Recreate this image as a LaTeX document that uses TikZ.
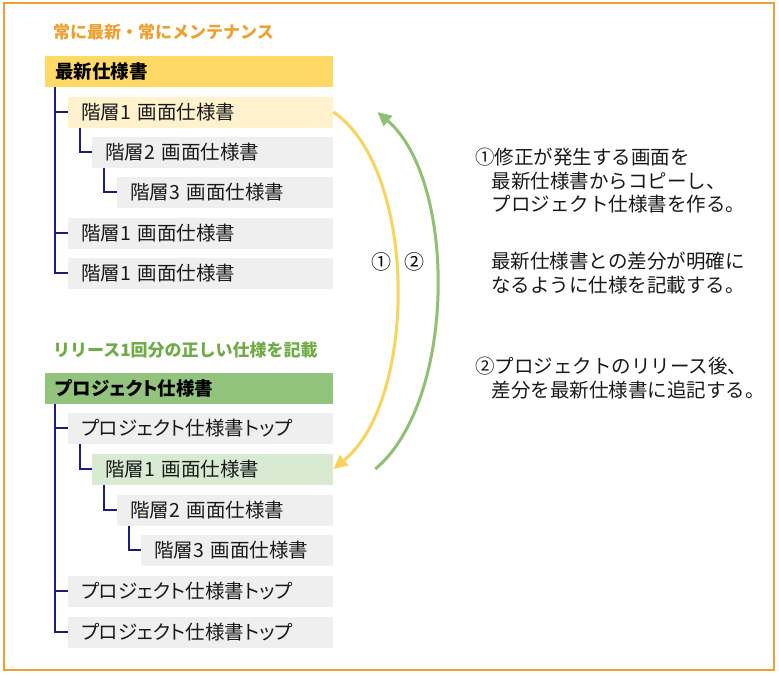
\documentclass[tikz,border=0pt]{standalone}
\usepackage{fontspec}
\setmainfont{Noto Sans CJK JP}
\newfontfamily\pfont{Noto Sans CJK JP}[RawFeature=+palt]
\usetikzlibrary{arrows.meta}

\definecolor{daidai}{HTML}{F0A030}
\definecolor{kiiro}{HTML}{FFD966}
\definecolor{usukiiro}{HTML}{FFF2CC}
\definecolor{haiiro}{HTML}{EFEFEF}
\definecolor{midori}{HTML}{6FAC46}
\definecolor{hdrmidori}{HTML}{93C47D}
\definecolor{usumidori}{HTML}{D9EAD3}
\definecolor{yajiki}{HTML}{F9D35B}
\definecolor{yajimidori}{HTML}{8FC172}
\definecolor{kon}{HTML}{1C1C80}

\begin{document}
\begin{tikzpicture}[x=1pt,y=-1pt,
    hdr/.style={anchor=west, minimum height=31pt, text width=268pt, inner xsep=10pt,
      inner ysep=0pt, font=\pfont\bfseries\fontsize{18.5}{21}\selectfont},
    row/.style={anchor=west, minimum height=31pt, inner xsep=13pt, inner ysep=0pt,
      align=left, fill=haiiro, text=black!90, font=\pfont\fontsize{19.5}{22}\selectfont},
    midasi/.style={anchor=west, inner sep=0pt, font=\bfseries\fontsize{17}{20}\selectfont},
    setsumei/.style={anchor=north west, inner sep=0pt, align=left,
      text=black!90, font=\fontsize{19.5}{23.5}\selectfont},
    tree/.style={kon, line width=1.1pt},
    yaji/.style={line width=3pt, -{Triangle[length=14pt,width=13pt]}}]

  % 枠
  \useasboundingbox (0,0) rectangle (779,675);
  \draw[daidai, line width=2.5pt] (4,3) rectangle (774,670);

  % 最新仕様書
  \node[midasi, text=daidai] (tA) at (53,32) {常に最新・常にメンテナンス};
  \node[hdr, fill=kiiro] (hdrA) at (45,71) {最新仕様書};
  \node[row, fill=usukiiro, text width=239pt] (a1) at (68,112) {階層1 画面仕様書};
  \node[row, text width=215pt] (a2) at (92,152) {階層2 画面仕様書};
  \node[row, text width=190pt] (a3) at (117,192) {階層3 画面仕様書};
  \node[row, text width=239pt] (a4) at (68,233) {階層1 画面仕様書};
  \node[row, text width=239pt] (a5) at (68,273) {階層1 画面仕様書};

  \coordinate (trunkA) at ([xshift=10pt]hdrA.south west);
  \draw[tree] (trunkA) |- (a5.west);
  \draw[tree] (trunkA |- a1.west) -- (a1.west);
  \draw[tree] (trunkA |- a4.west) -- (a4.west);
  \draw[tree] ([xshift=12pt]a1.south west) |- (a2.west);
  \draw[tree] ([xshift=12pt]a2.south west) |- (a3.west);

  % プロジェクト仕様書
  \node[midasi, text=midori] (tB) at (53,350) {リリース1回分の正しい仕様を記載};
  \node[hdr, fill=hdrmidori] (hdrB) at (45,388) {プロジェクト仕様書};
  \node[row, text width=239pt] (b1) at (68,428) {プロジェクト仕様書トップ};
  \node[row, fill=usumidori, text width=215pt] (b2) at (92,469) {階層1 画面仕様書};
  \node[row, text width=190pt] (b3) at (117,510) {階層2 画面仕様書};
  \node[row, text width=166pt] (b4) at (141,550) {階層3 画面仕様書};
  \node[row, text width=239pt] (b5) at (68,591) {プロジェクト仕様書トップ};
  \node[row, text width=239pt] (b6) at (68,632) {プロジェクト仕様書トップ};

  \coordinate (trunkB) at ([xshift=10pt]hdrB.south west);
  \draw[tree] (trunkB) |- (b6.west);
  \draw[tree] (trunkB |- b1.west) -- (b1.west);
  \draw[tree] (trunkB |- b5.west) -- (b5.west);
  \draw[tree] ([xshift=12pt]b1.south west) |- (b2.west);
  \draw[tree] ([xshift=12pt]b2.south west) |- (b3.west);
  \draw[tree] ([xshift=12pt]b3.south west) |- (b4.west);

  % 矢印
  \coordinate (g1) at ([xshift=42pt]b2.east);
  \coordinate (g2) at ([xshift=44pt]a1.east);
  \draw[yaji, yajiki] (a1.east) .. controls (418,170) and (418,400) .. (b2.east);
  \draw[yaji, yajimidori] (g1) .. controls (457,400) and (457,180) .. (g2);
  \node[font=\fontsize{20}{22}\selectfont] (n1) at (381,262) {①};
  \node[font=\fontsize{20}{22}\selectfont] (n2) at (414,262) {②};

  % 説明
  \node[setsumei] (s1) at (475,148) {①修正が発生する画面を\\\hspace*{0.85em}最新仕様書からコピーし、\\\hspace*{0.85em}プロジェクト仕様書を作る。};
  \node[setsumei] (s2) at (491,252) {最新仕様書との差分が明確に\\なるように仕様を記載する。};
  \node[setsumei] (s3) at (475,357) {②プロジェクトのリリース後、\\\hspace*{0.85em}差分を最新仕様書に追記する。};

\end{tikzpicture}
\end{document}
